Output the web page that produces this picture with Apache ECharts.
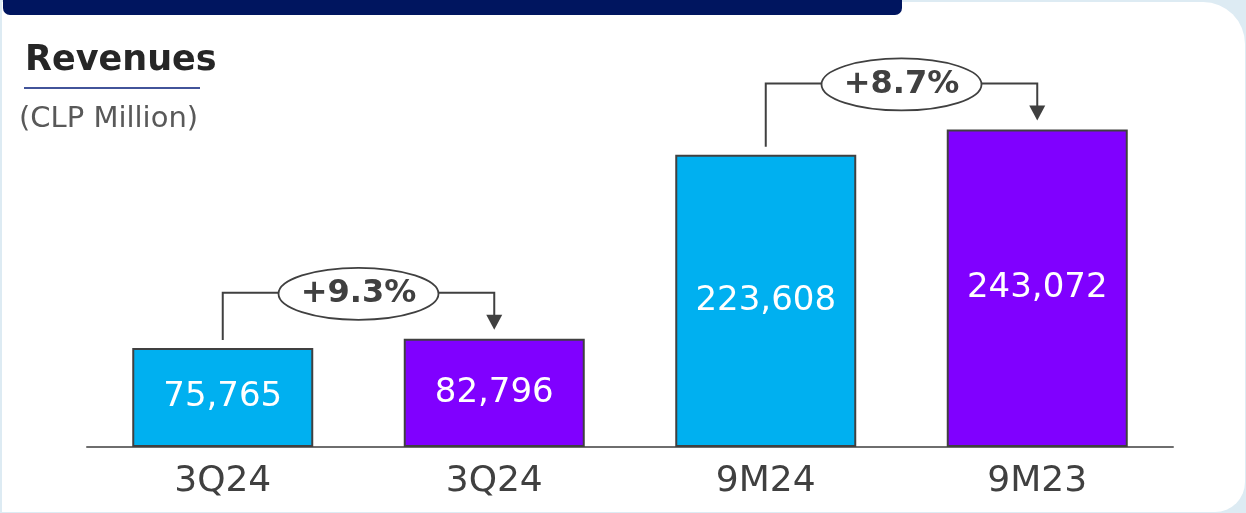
<!DOCTYPE html>
<html>
<head>
<meta charset="utf-8">
<script src="https://cdn.jsdelivr.net/npm/echarts@6/dist/echarts.min.js"></script>
<style>
  html, body { margin: 0; padding: 0; width: 1246px; height: 513px; background: #DDEBF3; overflow: hidden; }
  #card { position: absolute; left: 2px; top: 2px; width: 1243px; height: 510px; background: #ffffff; border-radius: 0 42px 30px 0; }
  #band { position: absolute; left: 3px; top: 0; width: 899px; height: 15px; background: #00155F; border-radius: 0 0 7px 7px; }
  #chart { position: absolute; left: 0; top: 0; width: 1246px; height: 513px; }
</style>
</head>
<body>
<div id="card"></div>
<div id="band"></div>
<div id="chart"></div>
<script>
const categories = ['3Q24', '3Q24', '9M24', '9M23'];
const revenues = [75765, 82796, 223608, 243072];
const barColors = ['#00B0F0', '#8000FF', '#00B0F0', '#8000FF'];
const changePairs = [[0, 1], [2, 3]];
const changeLabels = ['+9.3%', '+8.7%'];
const titleText = 'Revenues';
const unitText = '(CLP Million)';

const chart = echarts.init(document.getElementById('chart'), null, { renderer: 'canvas' });
const ink = '#404040';

chart.setOption({
  animation: false,
  backgroundColor: 'transparent',
  grid: { left: 87, right: 73, top: 55, bottom: 66 },
  xAxis: {
    type: 'category',
    data: categories,
    axisLine: { show: true, lineStyle: { color: '#6E6E6E', width: 2 } },
    axisTick: { show: false },
    axisLabel: { color: ink, fontSize: 36, fontFamily: 'DejaVu Sans', margin: 17 }
  },
  yAxis: { type: 'value', min: 0, max: 300000, show: false, splitLine: { show: false } },
  series: [{
    type: 'bar',
    barWidth: 181,
    data: revenues.map((v, i) => ({ value: v, itemStyle: { color: barColors[i] } })),
    itemStyle: { borderColor: ink, borderWidth: 2 },
    label: {
      show: true,
      position: 'inside',
      color: '#ffffff',
      fontSize: 34,
      fontFamily: 'DejaVu Sans',
      formatter: p => p.value.toLocaleString('en-US')
    }
  }]
});

const graphics = [
  { type: 'text', style: { text: titleText, x: 25, y: 61, verticalAlign: 'middle', font: 'bold 35px "DejaVu Sans"', fill: '#262626' } },
  { type: 'line', shape: { x1: 24, y1: 88, x2: 200, y2: 88 }, style: { stroke: '#42549A', lineWidth: 2 } },
  { type: 'text', style: { text: unitText, x: 19, y: 119, verticalAlign: 'middle', font: '29px "DejaVu Sans"', fill: '#595959' } }
];

changePairs.forEach((pair, k) => {
  const a = chart.convertToPixel({ seriesIndex: 0 }, [pair[0], revenues[pair[0]]]);
  const b = chart.convertToPixel({ seriesIndex: 0 }, [pair[1], revenues[pair[1]]]);
  const lineY = Math.min(a[1], b[1]) - 46;
  const cx = (a[0] + b[0]) / 2;
  const tipY = b[1] - 9;
  graphics.push(
    { type: 'polyline', z: 100, shape: { points: [[a[0], a[1] - 8], [a[0], lineY], [b[0], lineY], [b[0], tipY - 14]] }, style: { stroke: ink, lineWidth: 2, fill: null } },
    { type: 'polygon', z: 100, shape: { points: [[b[0] - 8, tipY - 15], [b[0] + 8, tipY - 15], [b[0], tipY]] }, style: { fill: ink } },
    { type: 'ellipse', z: 101, shape: { cx: cx, cy: lineY + 1, rx: 80, ry: 26 }, style: { fill: '#ffffff', stroke: ink, lineWidth: 1.8 } },
    { type: 'text', z: 102, style: { text: changeLabels[k], x: cx, y: lineY + 1, align: 'center', verticalAlign: 'middle', font: 'bold 32px "DejaVu Sans"', fill: ink } }
  );
});

chart.setOption({ graphic: graphics });
</script>
</body>
</html>
